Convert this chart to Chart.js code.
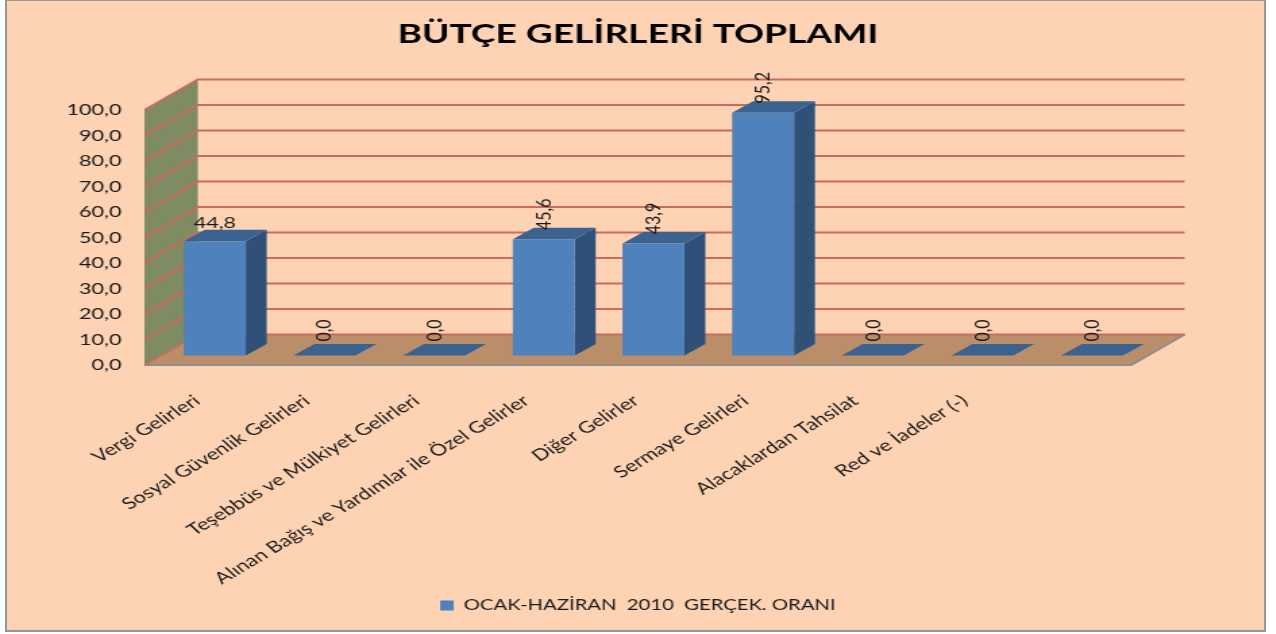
<!DOCTYPE html>
<html lang="tr">
<head>
<meta charset="UTF-8">
<title>BÜTÇE GELİRLERİ TOPLAMI</title>
<script src="https://cdn.jsdelivr.net/npm/chart.js"></script>
<style>
    html, body { margin: 0; padding: 0; background: white; overflow: hidden; }
    #frame {
        position: absolute; left: 5px; top: 0; width: 1257px; height: 629px;
        border: 2px solid #979797; border-top-width: 1px;
        background: #fdd3b3;
    }
    /* the reference picture is a stretched screenshot, so the whole canvas is widened */
    #chart { position: absolute; left: 0; top: 0; transform-origin: 0 0; transform: scaleX(1.35); }
</style>
</head>
<body>
<div id="frame"></div>
<canvas id="chart" width="945" height="634" style="width:945px;height:634px"></canvas>
<script>
    const categories = [
        'Vergi Gelirleri',
        'Sosyal Güvenlik Gelirleri',
        'Teşebbüs ve Mülkiyet Gelirleri',
        'Alınan Bağış ve Yardımlar ile Özel Gelirler',
        'Diğer Gelirler',
        'Sermaye Gelirleri',
        'Alacaklardan Tahsilat',
        'Red ve İadeler (-)',
        ''
    ];
    const seriesName = 'OCAK-HAZİRAN  2010  GERÇEK. ORANI';
    const values = [44.8, 0, 0, 45.6, 43.9, 95.2, 0, 0, 0];
    // only the first label is written horizontally
    const labelRotated = [false, true, true, true, true, true, true, true, true];

    const FONT = 'Lato, "Open Sans", sans-serif';
    const comma = v => v.toFixed(1).replace('.', ',');

    // depth of the fake 3D box, in canvas px
    const wallDx = 39.5, wallDy = -30.5;
    const insetDx = 11.5, insetDy = -9.5;
    const barDx = 15.5, barDy = -11.5;

    function poly(ctx, pts, fill) {
        ctx.beginPath();
        pts.forEach((p, i) => i ? ctx.lineTo(p[0], p[1]) : ctx.moveTo(p[0], p[1]));
        ctx.closePath();
        ctx.fillStyle = fill;
        ctx.fill();
    }

    const box3d = {
        id: 'box3d',
        beforeDatasetsDraw(chart) {
            const ctx = chart.ctx;
            const a = chart.chartArea;
            const y = chart.scales.y;
            const y0 = y.getPixelForValue(0);
            const y100 = y.getPixelForValue(100);

            // left wall and floor
            poly(ctx, [[a.left, y100], [a.left + wallDx, y100 + wallDy], [a.left + wallDx, y0 + wallDy], [a.left, y0]], '#7f8b62');
            poly(ctx, [[a.left, y0], [a.left + wallDx, y0 + wallDy], [a.right + wallDx, y0 + wallDy], [a.right, y0]], '#bb8e6a');

            ctx.strokeStyle = '#8f8f8f';
            ctx.lineWidth = 2;
            ctx.beginPath();
            ctx.moveTo(a.left, y0);
            ctx.lineTo(a.right, y0);
            ctx.lineTo(a.right + wallDx, y0 + wallDy);
            ctx.stroke();

            // gridlines go along the wall and then the back
            ctx.strokeStyle = '#cb6a62';
            ctx.lineWidth = 2;
            y.ticks.forEach(t => {
                const py = y.getPixelForValue(t.value);
                ctx.beginPath();
                ctx.moveTo(a.left, py);
                ctx.lineTo(a.left + wallDx, py + wallDy);
                ctx.lineTo(a.right + wallDx, py + wallDy);
                ctx.stroke();
            });

            // bar sides and tops
            chart.getDatasetMeta(0).data.forEach(bar => {
                const l = bar.x - bar.width / 2 + insetDx;
                const r = bar.x + bar.width / 2 + insetDx;
                const t = bar.y + insetDy;
                const b = bar.base + insetDy;
                poly(ctx, [[r, t], [r + barDx, t + barDy], [r + barDx, b + barDy], [r, b]], '#315078');
                poly(ctx, [[l, t], [l + barDx, t + barDy], [r + barDx, t + barDy], [r, t]], '#3c6290');
            });

            // the library draws the front faces pushed back into the box
            ctx.save();
            ctx.translate(insetDx, insetDy);
        },
        afterDatasetsDraw(chart) {
            const ctx = chart.ctx;
            ctx.restore();

            ctx.fillStyle = '#1a1a1a';
            ctx.font = '16px ' + FONT;
            ctx.textAlign = 'center';
            ctx.textBaseline = 'middle';
            chart.getDatasetMeta(0).data.forEach((bar, i) => {
                const px = bar.x + insetDx;
                const py = bar.y + insetDy;
                ctx.save();
                if (labelRotated[i]) {
                    ctx.translate(px, py - 25);
                    ctx.rotate(-Math.PI / 2);
                } else {
                    ctx.translate(px, py - 18);
                }
                ctx.fillText(comma(values[i]), 0, 0);
                ctx.restore();
            });
        }
    };

    new Chart(document.getElementById('chart'), {
        type: 'bar',
        data: {
            labels: categories,
            datasets: [{
                label: seriesName,
                data: values,
                backgroundColor: '#4f81bd',
                barPercentage: 0.565,
                categoryPercentage: 1,
                clip: false
            }]
        },
        plugins: [box3d],
        options: {
            responsive: false,
            animation: false,
            layout: { padding: { left: 0, right: 0, top: 0, bottom: 11 } },
            plugins: {
                tooltip: { enabled: false },
                title: {
                    display: true,
                    text: 'BÜTÇE GELİRLERİ TOPLAMI',
                    color: '#000',
                    font: { family: FONT, size: 27.5, weight: 'bold' },
                    padding: { top: 17.5, bottom: 59.5 }
                },
                legend: {
                    position: 'bottom',
                    labels: {
                        color: '#1a1a1a',
                        font: { family: FONT, size: 15 },
                        boxWidth: 10,
                        boxHeight: 10,
                        padding: 10
                    }
                }
            },
            scales: {
                x: {
                    grid: { display: false },
                    border: { display: false },
                    afterFit(scale) { scale.height = 223; },
                    ticks: {
                        autoSkip: false,
                        minRotation: 38.5,
                        maxRotation: 38.5,
                        padding: 18,
                        labelOffset: -1.5,
                        color: '#1a1a1a',
                        font: { family: FONT, size: 16.3 }
                    }
                },
                y: {
                    min: 0,
                    max: 100,
                    grid: { display: false, drawTicks: false },
                    border: { display: false },
                    afterFit(scale) { scale.width = 107; },
                    ticks: {
                        stepSize: 10,
                        padding: 17,
                        color: '#1a1a1a',
                        font: { family: FONT, size: 16 },
                        callback: v => comma(v)
                    }
                },
                // empty axis, only keeps the plot clear of the right side so title and legend stay centred
                spacer: {
                    position: 'right',
                    min: 0,
                    max: 100,
                    grid: { display: false },
                    border: { display: false },
                    ticks: { display: false },
                    afterFit(scale) { scale.width = 107; }
                }
            }
        }
    });
</script>
</body>
</html>
